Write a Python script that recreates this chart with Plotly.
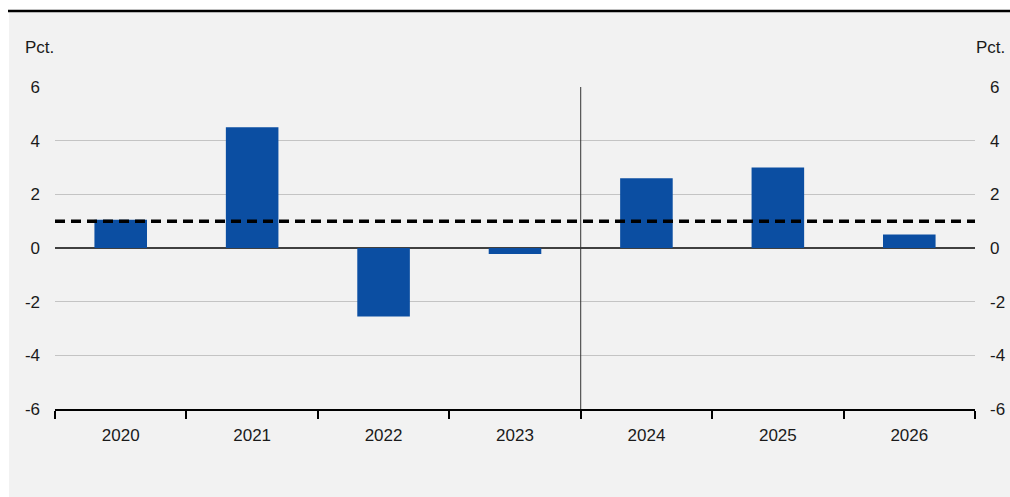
import plotly.graph_objects as go

years = ["2020", "2021", "2022", "2023", "2024", "2025", "2026"]
values = [1.05, 4.5, -2.55, -0.22, 2.6, 3.0, 0.5]
reference_level = 1.0
y_ticks = [-6, -4, -2, 0, 2, 4, 6]
unit_label = "Pct."

W, H = 1010, 497
L, R, T, B = 55, 35, 87, 88
pw, ph = W - L - R, H - T - B

def px_x(p):
    return (p - L) / pw

def px_y(p):
    return (H - B - p) / ph

font = dict(family="Liberation Sans, Arial, sans-serif", size=17, color="#1a1a1a")

fig = go.Figure()
fig.add_trace(go.Bar(x=years, y=values, marker=dict(color="#0b4ea2", line=dict(width=0)),
                     width=0.4, hoverinfo="x+y", showlegend=False))
fig.add_trace(go.Scatter(x=years, y=values, yaxis="y2", mode="markers",
                         marker=dict(opacity=0), showlegend=False, hoverinfo="skip"))

shapes = [
    dict(type="rect", xref="paper", yref="paper", x0=px_x(9), x1=px_x(W + 5),
         y0=px_y(H + 5), y1=px_y(12), fillcolor="#f2f2f2", line=dict(width=0), layer="below"),
    dict(type="line", xref="paper", yref="paper", x0=px_x(8), x1=px_x(W + 5),
         y0=px_y(11), y1=px_y(11), line=dict(color="#000000", width=2.5)),
    dict(type="line", xref="x", yref="paper", x0=3.5, x1=3.5, y0=0, y1=1,
         line=dict(color="#333333", width=1)),
    dict(type="line", xref="paper", yref="y", x0=0, x1=1, y0=reference_level, y1=reference_level,
         line=dict(color="#000000", width=3.5, dash="10px,6px")),
]

annotations = [
    dict(text=unit_label, xref="paper", yref="paper", x=px_x(23), y=px_y(48),
         xanchor="left", yanchor="middle", showarrow=False, font=font),
    dict(text=unit_label, xref="paper", yref="paper", x=px_x(1007), y=px_y(48),
         xanchor="right", yanchor="middle", showarrow=False, font=font),
]

yax = dict(range=[-6, 6], tickvals=y_ticks, ticktext=[str(v) for v in y_ticks],
           showgrid=True, gridcolor="#c4c4c4", gridwidth=1,
           zeroline=True, zerolinecolor="#404040", zerolinewidth=1.5,
           showline=False, ticks="", tickfont=font, ticklabelstandoff=14,
           fixedrange=True, automargin=False)

fig.update_layout(
    width=W, height=H, autosize=False,
    margin=dict(l=L, r=R, t=T, b=B, pad=0, autoexpand=False),
    paper_bgcolor="#ffffff", plot_bgcolor="rgba(0,0,0,0)",
    font=font,
    bargap=0.6,
    xaxis=dict(type="category", range=[-0.5, 6.5], tickson="boundaries", ticks="outside",
               ticklen=8, tickwidth=2, tickcolor="#000000", showline=True, linecolor="#000000",
               linewidth=2, showgrid=False, zeroline=False, tickfont=font, fixedrange=True,
               ticklabelstandoff=10, automargin=False),
    yaxis=yax,
    yaxis2=dict(yax, overlaying="y", side="right", showgrid=False, zeroline=False),
    shapes=shapes,
    annotations=annotations,
)

post = (
    "document.body.style.margin='0';"
    "document.body.style.overflow='hidden';"
)

fig.write_html(
    "out.html",
    config={"displayModeBar": False, "responsive": False},
    default_width=f"{W}px", default_height=f"{H}px",
    post_script=post,
)
